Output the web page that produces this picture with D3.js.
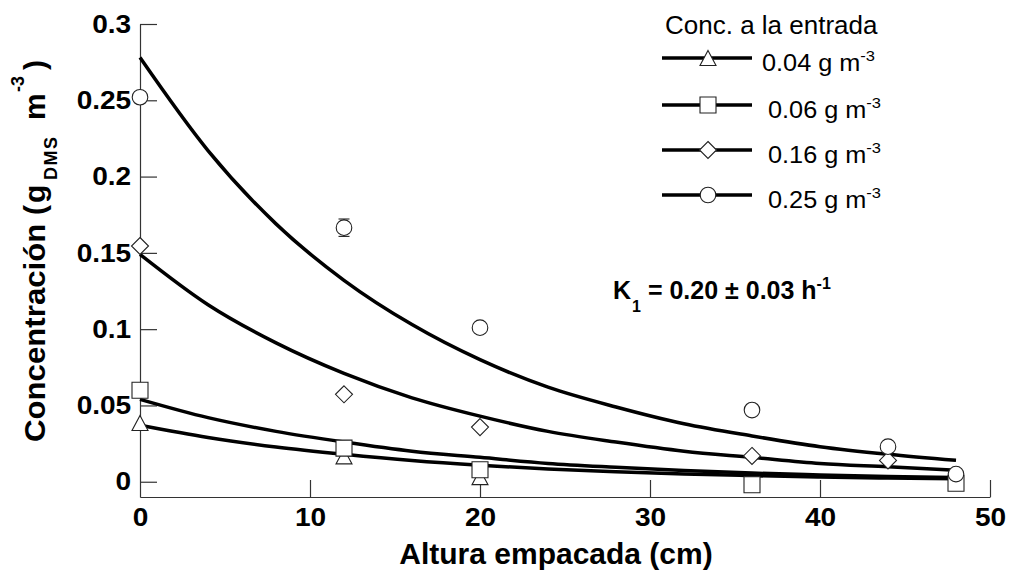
<!DOCTYPE html>
<html><head><meta charset="utf-8">
<script src="https://cdn.jsdelivr.net/npm/d3@7"></script>
<style>
html,body{margin:0;padding:0;background:#fff;}
svg{display:block;font-family:"Liberation Sans",Arial,sans-serif;}
</style></head>
<body>
<svg id="chart" width="1016" height="577"></svg>
<script>
// ---- data ----
const heights = [0, 12, 20, 36, 44, 48];               // Altura empacada (cm)
const conc004 = [0.0385, 0.0166, 0.003, null, null, null];
const conc006 = [0.060, 0.022, 0.0079, -0.002, null, -0.001];
const conc016 = [0.1545, 0.0573, 0.0358, 0.0169, 0.014, null];
const conc025 = [0.252, 0.1665, 0.101, 0.047, 0.023, 0.005];
const err025  = [0, 0.0057, 0, 0, 0, 0];

const fitHeights = [0, 4, 8, 12, 16, 20, 24, 28, 32, 36, 40, 44, 48];
const fit004 = [0.037, 0.029, 0.0228, 0.018, 0.0139, 0.0108, 0.0084, 0.0066, 0.0051, 0.0040, 0.0031, 0.0024, 0.0019];
const fit006 = [0.054, 0.042, 0.033, 0.026, 0.020, 0.016, 0.012, 0.0095, 0.0074, 0.0057, 0.0045, 0.0035, 0.0027];
const fit016 = [0.149, 0.116, 0.091, 0.071, 0.055, 0.043, 0.033, 0.026, 0.020, 0.016, 0.012, 0.0098, 0.0075];
const fit025 = [0.278, 0.217, 0.169, 0.132, 0.103, 0.080, 0.062, 0.049, 0.038, 0.030, 0.023, 0.018, 0.014];

const xTicks = [0, 10, 20, 30, 40, 50];
const xTickLabels = ["0", "10", "20", "30", "40", "50"];
const yTicks = [0, 0.05, 0.1, 0.15, 0.2, 0.25, 0.3];
const yTickLabels = ["0", "0.05", "0.1", "0.15", "0.2", "0.25", "0.3"];

const legendTitle = "Conc. a la entrada";
const legendLabels = ["0.04 g m", "0.06 g m", "0.16 g m", "0.25 g m"];
const legendSup = "-3";
const xTitle = "Altura empacada (cm)";

// ---- drawing ----
const svg = d3.select("#chart");
const x = d3.scaleLinear().domain([0, 50]).range([140, 990]);
const y = d3.scaleLinear().domain([-0.01, 0.3]).range([497, 24]);
const SX = 1.1; // horizontal stretch of the reference's lettering

// axes
const yAxis = d3.axisLeft(y).tickValues(yTicks)
  .tickFormat((d, i) => yTickLabels[i]).tickSizeInner(-17).tickSizeOuter(0).tickPadding(8);
const gy = svg.append("g").attr("transform", "translate(140,0)").call(yAxis);
const xAxis = d3.axisBottom(x).tickValues(xTicks)
  .tickFormat((d, i) => xTickLabels[i]).tickSizeInner(-17).tickSizeOuter(0).tickPadding(11);
const gx = svg.append("g").attr("transform", "translate(0,497)").call(xAxis);
[gx, gy].forEach(g => {
  g.selectAll("path.domain").attr("stroke", "#333").attr("stroke-width", 1.2);
  g.selectAll(".tick line").attr("stroke", "#333").attr("stroke-width", 1.2);
  g.selectAll(".tick text").attr("fill", "#000").attr("font-size", 25.5).attr("font-weight", "bold")
    .attr("font-family", "'Liberation Sans',Arial,sans-serif")
    .attr("transform", `scale(${SX},1)`);
});
gx.selectAll(".tick").filter(d => d === 0).select("line").remove();

// fitted curves
const line = d3.line().x(d => x(d[0])).y(d => y(d[1])).curve(d3.curveMonotoneX);
const fits = [fit004, fit006, fit016, fit025];
fits.forEach(f => {
  svg.append("path").datum(fitHeights.map((h, i) => [h, f[i]]))
    .attr("d", line).attr("fill", "none").attr("stroke", "#000").attr("stroke-width", 3.5);
});

// marker shapes
const shapes = {
  tri: "M0,-7.5L8,7.5L-8,7.5Z",
  sq: "M-8,-8H8V8H-8Z",
  dia: "M0,-8.5L8.5,0L0,8.5L-8.5,0Z",
  circ: d3.symbol().type(d3.symbolCircle).size(Math.PI * 7.8 * 7.8)()
};
function marker(g, shape, cx, cy) {
  g.append("path").attr("d", shapes[shape]).attr("transform", `translate(${cx},${cy})`)
    .attr("fill", "#fff").attr("stroke", "#222").attr("stroke-width", 1.1);
}

// error bars (circle series)
heights.forEach((h, i) => {
  const e = err025[i];
  if (!e) return;
  const g = svg.append("g").attr("stroke", "#222").attr("stroke-width", 1.1);
  g.append("line").attr("x1", x(h)).attr("x2", x(h)).attr("y1", y(conc025[i] - e)).attr("y2", y(conc025[i] + e));
  [conc025[i] - e, conc025[i] + e].forEach(v =>
    g.append("line").attr("x1", x(h) - 5.5).attr("x2", x(h) + 5.5).attr("y1", y(v)).attr("y2", y(v)));
});

const series = [[conc004, "tri"], [conc006, "sq"], [conc016, "dia"], [conc025, "circ"]];
const pts = svg.append("g");
series.forEach(([arr, shp]) => {
  heights.forEach((h, i) => { if (arr[i] !== null) marker(pts, shp, x(h), y(arr[i])); });
});

// legend
const lg = svg.append("g");
lg.append("text").attr("transform", "translate(665,34) scale(1.02,1)").attr("font-size", 25.5).text(legendTitle);
const rowY = [58, 105, 150, 195];
const labX = [762, 768, 768, 768];
const legShapes = ["tri", "sq", "dia", "circ"];
rowY.forEach((ry, i) => {
  lg.append("line").attr("x1", 662).attr("x2", 752).attr("y1", ry).attr("y2", ry)
    .attr("stroke", "#000").attr("stroke-width", 3.5);
  marker(lg, legShapes[i], 708, ry);
  const t = lg.append("text").attr("transform", `translate(${labX[i]},${ry + 13}) scale(${SX},1)`)
    .attr("font-size", 23);
  t.append("tspan").text(legendLabels[i]);
  t.append("tspan").attr("font-size", 15).attr("dy", -10).text(legendSup);
});

// K annotation
const kt = svg.append("text").attr("x", 613).attr("y", 299).attr("font-size", 25).attr("font-weight", "bold");
kt.append("tspan").text("K");
kt.append("tspan").attr("font-size", 16).attr("dy", 13).attr("dx", 1).text("1");
kt.append("tspan").attr("dy", -13).text(" = 0.20 ± 0.03 h");
kt.append("tspan").attr("font-size", 16).attr("dy", -10).text("-1");

// axis titles
svg.append("text").attr("x", 556).attr("y", 564).attr("text-anchor", "middle")
  .attr("font-size", 30).attr("font-weight", "bold").text(xTitle);

// y title laid out along its reading direction (rotated frame, origin at the first letter)
const ytg = svg.append("g").attr("transform", "translate(45,442) rotate(-90)")
  .attr("font-size", 30).attr("font-weight", "bold").attr("fill", "#000");
ytg.append("text").attr("transform", "scale(1.04,1)").text("Concentración");
const yt = ytg.append("text");
yt.append("tspan").attr("x", 227).attr("y", 0).text("(");
yt.append("tspan").attr("x", 239).attr("y", 0).text("g");
yt.append("tspan").attr("x", 262).attr("y", 12).attr("font-size", 18).attr("letter-spacing", 1.5).text("DMS");
yt.append("tspan").attr("x", 322).attr("y", 0).text("m");
yt.append("tspan").attr("x", 350).attr("y", -21).attr("font-size", 18).text("-3");
yt.append("tspan").attr("x", 372).attr("y", 0).text(")");
</script>
</body></html>
